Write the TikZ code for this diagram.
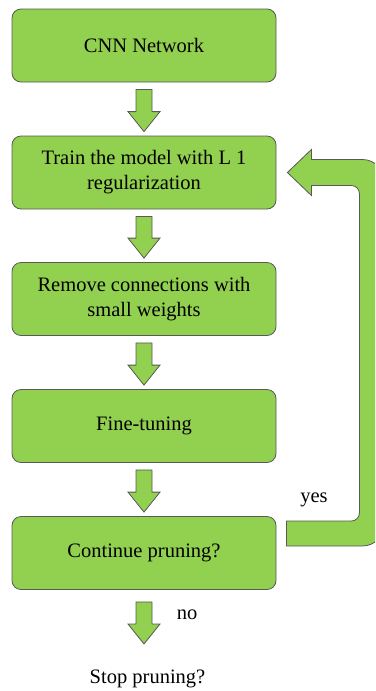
\documentclass[tikz,border=0pt]{standalone}
\usepackage{fontspec}
\setmainfont{Liberation Serif}
\usetikzlibrary{calc}
\definecolor{boxgreen}{HTML}{92D050}
\definecolor{edgegray}{HTML}{595959}
\tikzset{
  stepbox/.style={draw=edgegray, line width=0.8pt, fill=boxgreen, rounded corners=9pt,
    minimum width=264pt, minimum height=73pt, align=center,
    font=\fontsize{20.5}{25}\selectfont},
  blockarrow/.style={draw=edgegray, line width=0.8pt, fill=boxgreen, line join=miter},
  plainlabel/.style={font=\fontsize{20.5}{25}\selectfont}
}
% block arrow from (#1) moved down by #2 to (#3) moved up by #4
\newcommand{\flowarrow}[4]{%
  \draw[blockarrow] ($(#1)+(-8,#2)$) -- ($(#1)+(8,#2)$)
    -- ($(#3)+(8,-20-#4)$) -- ($(#3)+(16,-20-#4)$)
    -- ($(#3)+(0,-#4)$) -- ($(#3)+(-16,-20-#4)$)
    -- ($(#3)+(-8,-20-#4)$) -- cycle;}
\begin{document}
\begin{tikzpicture}[x=1pt,y=-1pt]
  \clip (0,0) rectangle (375,691);

  % steps
  \node[stepbox] (cnn) at (144,45.5) {CNN Network};
  \node[stepbox] (train) at (144,172.5) {Train the model with L 1\\regularization};
  \node[stepbox] (remove) at (144,299) {Remove connections with\\small weights};
  \node[stepbox] (fine) at (144,426) {Fine-tuning};
  \node[stepbox] (cont) at (144,553) {Continue pruning?};
  \node[plainlabel] (stop) at (147.5,679) {Stop pruning?};
  \coordinate (stoptip) at (144,644);

  % down arrows
  \flowarrow{cnn.south}{7}{train.north}{4}
  \flowarrow{train.south}{7}{remove.north}{4}
  \flowarrow{remove.south}{7}{fine.north}{4}
  \flowarrow{fine.south}{7}{cont.north}{4}
  \flowarrow{cont.south}{12}{stoptip}{0}
  \node[plainlabel] (no) at (187,615) {no};

  % feedback arrow: yes
  \draw[blockarrow] ($(cont.east)+(10,-7)$)
    [rounded corners=22pt] -- ($(cont.east)+(108,-7)$)
    -- ($(train.east)+(108,-13)$)
    [sharp corners] -- ($(train.east)+(35,-13)$)
    -- ($(train.east)+(35,-23)$)
    -- ($(train.east)+(11,0)$)
    -- ($(train.east)+(35,23)$)
    -- ($(train.east)+(35,13)$)
    [rounded corners=8pt] -- ($(train.east)+(83,13)$)
    -- ($(cont.east)+(83,-32)$)
    [sharp corners] -- ($(cont.east)+(10,-32)$) -- cycle;
  \node[plainlabel] (yes) at (314,500) {yes};
\end{tikzpicture}
\end{document}
